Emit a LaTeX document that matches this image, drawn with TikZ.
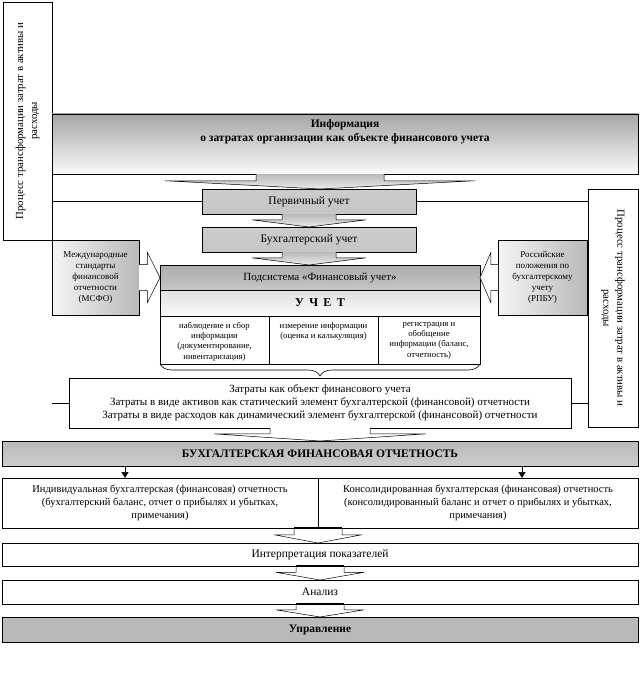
\documentclass[tikz,border=0pt]{standalone}
\usepackage{fontspec}
\setmainfont{Liberation Serif}
\usetikzlibrary{arrows.meta, positioning, calc, decorations.pathreplacing}

% block arrow down: style, top point, tip, half shaft, half head
\newcommand{\downBlock}[5]{%
  \path[#1] let \p1=(#2), \p2=(#3), \p3=($(#2)!0.45!(#3)$) in
    (\x1-#4,\y1) -- (\x1-#4,\y3) -- (\x1-#5,\y3) -- (\x1,\y2)
    -- (\x1+#5,\y3) -- (\x1+#4,\y3) -- (\x1+#4,\y1);}
% block arrow sideways: style, start point, tip, half shaft, half head
\newcommand{\sideBlock}[5]{%
  \path[#1] let \p1=(#2), \p2=(#3), \p3=($(#2)!0.4!(#3)$) in
    (\x1,\y1+#4) -- (\x3,\y1+#4) -- (\x3,\y1+#5) -- (\x2,\y1)
    -- (\x3,\y1-#5) -- (\x3,\y1-#4) -- (\x1,\y1-#4);}

\begin{document}
\begin{tikzpicture}[x=1pt, y=-1pt,
        every node/.style={inner sep=2pt, outer sep=0pt},
        box/.style={
            rectangle, draw=black, line width=0.6pt, fill=white,
            align=center, font=\fontsize{10.5}{13}\selectfont
        },
        bigText/.style={font=\fontsize{11.5}{14}\selectfont},
        boldText/.style={font=\bfseries\fontsize{11.5}{14}\selectfont},
        shadeBox/.style={box, top color=gray!70, bottom color=gray!4},
        tubeBox/.style={box, bigText, top color=gray!40, middle color=gray!4, bottom color=gray!45},
        sideBox/.style={box, font=\fontsize{10.8}{14}\selectfont},
        normBox/.style={box, left color=gray!8, right color=gray!55,
            font=\fontsize{9}{11}\selectfont},
        colBox/.style={box, font=\fontsize{8.7}{10.3}\selectfont},
        arrowFill/.style={draw=black, line width=0.5pt, top color=gray!55, bottom color=gray!15},
        arrowHollow/.style={draw=black, line width=0.5pt, fill=white},
        smallArrow/.style={line width=0.6pt, -{Triangle[length=6pt, width=7pt]}}
    ]
        \useasboundingbox (0,0) rectangle (640,698);

        % side boxes
        \node[sideBox, rotate=90, minimum width=238pt, minimum height=49pt] (lside) at (27.5,121)
            {Процесс трансформации затрат в активы и\\расходы};
        \node[sideBox, rotate=-90, minimum width=238pt, minimum height=50pt] (rside) at (613,308)
            {Процесс трансформации затрат в активы и\\расходы};

        % upper chain
        \node[shadeBox, boldText, anchor=north west, minimum width=586pt, minimum height=60pt] (info) at (52,114)
            {\parbox[c][48pt][t]{570pt}{\centering Информация\\о затратах организации как объекте финансового учета}};
        \node[tubeBox, anchor=north west, minimum width=214pt, minimum height=25pt] (perv) at (202,189) {Первичный учет};
        \node[tubeBox, anchor=north west, minimum width=214pt, minimum height=25pt] (buh) at (202,227) {Бухгалтерский учет};
        \node[box, top color=gray!65, middle color=gray!25, bottom color=gray!45,
            font=\fontsize{11}{13}\selectfont,
            anchor=north west, minimum width=320pt, minimum height=25pt] (sub) at (160,265) {Подсистема «Финансовый учет»};
        \node[box, top color=gray!25, bottom color=gray!4, minimum width=320pt, minimum height=26pt,
            font=\bfseries\fontsize{12}{14}\selectfont, below=0pt of sub] (uchet) {У\hspace{0.45em}Ч\hspace{0.45em}Е\hspace{0.45em}Т};

        % accounting steps
        \node[colBox, anchor=north west, minimum width=109pt, minimum height=48pt] (step1) at (uchet.south west)
            {\parbox[t][36pt][t]{104pt}{\centering наблюдение и сбор\\информации\\(документирование,\\инвентаризация)}};
        \node[colBox, minimum width=109pt, minimum height=48pt, right=0pt of step1] (step2)
            {\parbox[t][36pt][t]{104pt}{\centering измерение информации\\(оценка и калькуляция)}};
        \node[colBox, minimum width=102pt, minimum height=48pt, right=0pt of step2] (step3)
            {\parbox[t][36pt][t]{98pt}{\centering регистрация и\\обобщение\\информации (баланс,\\отчетность)}};

        % standards
        \node[normBox, anchor=north west, minimum width=87pt, minimum height=75pt] (msfo) at (52,240)
            {Международные\\стандарты\\финансовой\\отчетности\\(МСФО)};
        \node[normBox, anchor=north west, minimum width=89pt, minimum height=75pt] (rpbu) at (498,240)
            {Российские\\положения по\\бухгалтерскому\\учету\\(РПБУ)};

        \node[box, font=\fontsize{11}{13}\selectfont, anchor=north west, minimum width=502pt, minimum height=50pt] (costs) at (69,378)
            {Затраты как объект финансового учета\\
             Затраты в виде активов как статический элемент бухгалтерской (финансовой) отчетности\\
             Затраты в виде расходов как динамический элемент бухгалтерской (финансовой) отчетности};

        % reporting
        \node[box, boldText, top color=gray!55, middle color=gray!15, bottom color=gray!40,
            anchor=north west, minimum width=636pt, minimum height=25pt] (bfo) at (2,441) {БУХГАЛТЕРСКАЯ ФИНАНСОВАЯ ОТЧЕТНОСТЬ};
        \node[box, anchor=north west, minimum width=316pt, minimum height=50pt] (indiv) at (2,478)
            {Индивидуальная бухгалтерская (финансовая) отчетность\\(бухгалтерский баланс, отчет о прибылях и убытках,\\примечания)};
        \node[box, anchor=north west, minimum width=320pt, minimum height=50pt] (cons) at (318,478)
            {Консолидированная бухгалтерская (финансовая) отчетность\\(консолидированный баланс и отчет о прибылях и убытках,\\примечания)};
        \node[box, bigText, anchor=north west, minimum width=636pt, minimum height=23pt] (intp) at (2,543) {Интерпретация показателей};
        \node[box, bigText, anchor=north west, minimum width=636pt, minimum height=24pt] (anal) at (2,580) {Анализ};
        \node[box, boldText, top color=gray!55, middle color=gray!10, bottom color=gray!55,
            anchor=north west, minimum width=636pt, minimum height=25pt] (upr) at (2,617) {Управление};

        % Connectors
        \draw[line width=0.6pt] (perv.west) -- (perv.west -| lside.south);
        \draw[line width=0.6pt] (perv.east) -- (perv.east -| rside.south);
        \draw[line width=0.6pt] (costs.west) -- (costs.west -| msfo.west);
        \draw[line width=0.6pt] (costs.east) -- (costs.east -| rside.south);

        \downBlock{arrowFill}{info.south -| sub.north}{perv.north -| sub.north}{64pt}{155pt}
        \downBlock{arrowFill}{perv.south}{buh.north}{27pt}{57pt}
        \downBlock{arrowFill}{buh.south}{buh.south |- sub.north}{27pt}{57pt}
        \sideBlock{arrowHollow}{msfo.east}{sub.west}{13pt}{25pt}
        \sideBlock{arrowHollow}{rpbu.west}{sub.east}{13pt}{25pt}

        \draw[line width=0.6pt, decorate, decoration={brace, mirror, amplitude=12pt}]
            (step1.south west) -- (step3.south east);

        \downBlock{arrowHollow}{costs.south}{costs.south |- bfo.north}{50pt}{106pt}

        \coordinate (indivIn) at ([xshift=-35pt]indiv.north);
        \coordinate (consIn) at ([xshift=44pt]cons.north);
        \draw[smallArrow] (indivIn |- bfo.south) -- (indivIn);
        \draw[smallArrow] (consIn |- bfo.south) -- (consIn);

        \downBlock{arrowHollow}{indiv.south east}{indiv.south east |- intp.north}{24pt}{44pt}
        \downBlock{arrowHollow}{intp.south}{anal.north}{24pt}{44pt}
        \downBlock{arrowHollow}{anal.south}{upr.north}{24pt}{44pt}
        \draw[line width=2pt] ([xshift=-24pt]indiv.south east) -- ([xshift=24pt]indiv.south east);
        \draw[line width=2pt] ([xshift=-24pt]intp.south) -- ([xshift=24pt]intp.south);
        \draw[line width=2pt] ([xshift=-24pt]anal.south) -- ([xshift=24pt]anal.south);
    \end{tikzpicture}
\end{document}
